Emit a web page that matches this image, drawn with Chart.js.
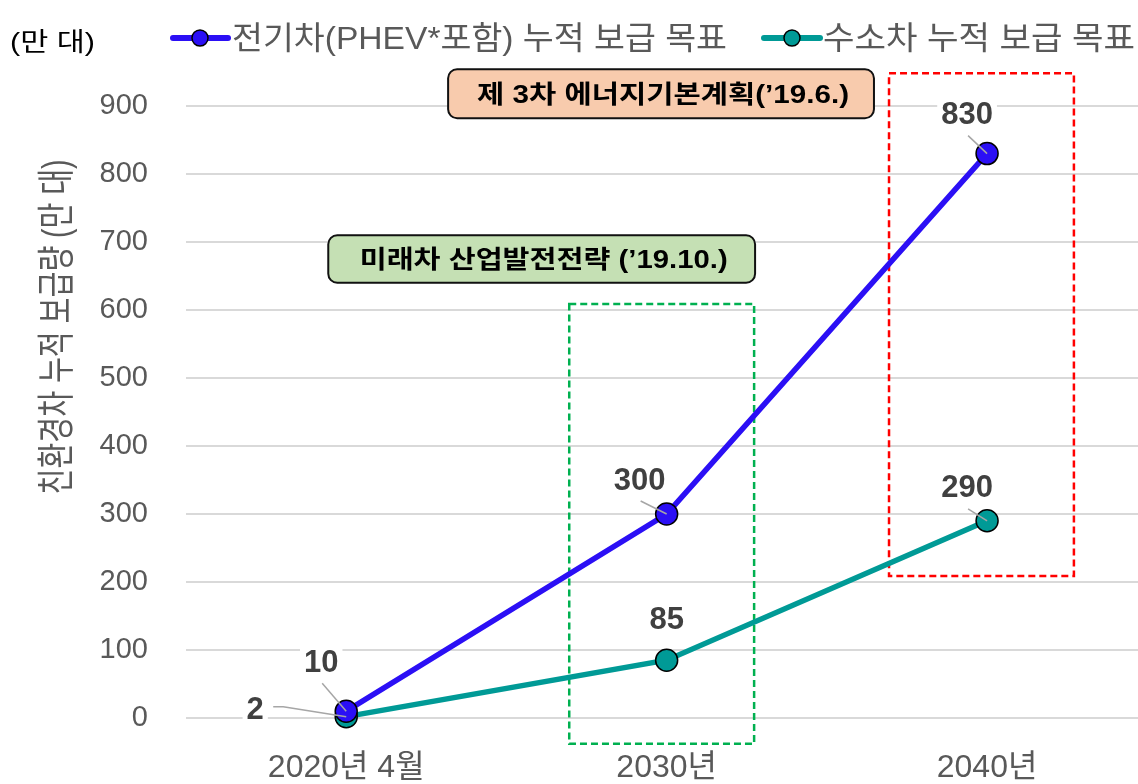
<!DOCTYPE html>
<html>
<head>
<meta charset="utf-8">
<script src="https://cdn.jsdelivr.net/npm/chart.js@4"></script>
<style>
  html, body { margin: 0; padding: 0; overflow: hidden; background: #fff; }
  #wrap { width: 1138px; height: 784px; position: relative; }
  #chart { display: block; }
</style>
</head>
<body>
<div id="wrap"><canvas id="chart"></canvas></div>
<script>
// data
var xLabels = ['2020년 4월', '2030년', '2040년'];
var seriesNames = ['전기차(PHEV*포함) 누적 보급 목표', '수소차 누적 보급 목표'];
var evValues = [10, 300, 830];
var h2Values = [2, 85, 290];

var evColor = '#2B0FF5';
var h2Color = '#009A96';
var grey = '#595959';
var KFONT = '"Liberation Sans", "Noto Sans CJK KR", sans-serif';

// label offsets (px) from each point: [dx, dy, leader?]
var labelPos = [
  [[-25, -49, true], [-27, -34, true], [-20, -39, true]],
  [[-91, -7, true], [0, -41, false], [-20, -33, true]]
];

// annotation frames, in axis units
var frames = [
  { x0: 0.696, x1: 1.273, y0: -38, y1: 609, color: '#00B050' },
  { x0: 1.694, x1: 2.271, y0: 209, y1: 948, color: '#FF0000' }
];
var notes = [
  { text: '제 3차 에너지기본계획(’19.6.)', x0: 0.318, x1: 1.647, y0: 882, y1: 954, fill: '#F8CBAD', w: 372 },
  { text: '미래차 산업발전전략 (’19.10.)', x0: -0.056, x1: 1.276, y0: 640, y1: 710, fill: '#C5E0B4', w: 368 }
];

function fitText(ctx, text, x, y, width, align) {
  var m = ctx.measureText(text).width;
  var s = width / m;
  ctx.save();
  ctx.translate(x, y);
  ctx.scale(s, 1);
  ctx.textAlign = align || 'left';
  ctx.fillText(text, 0, 0);
  ctx.restore();
}

function legendItem(ctx, x0, x1, cx, y, color, text, tx, tw) {
  ctx.save();
  ctx.strokeStyle = color;
  ctx.lineWidth = 6;
  ctx.lineCap = 'round';
  ctx.beginPath();
  ctx.moveTo(x0, y);
  ctx.lineTo(x1, y);
  ctx.stroke();
  ctx.beginPath();
  ctx.arc(cx, y, 8, 0, Math.PI * 2);
  ctx.fillStyle = color;
  ctx.fill();
  ctx.lineWidth = 1.5;
  ctx.strokeStyle = '#000';
  ctx.stroke();
  ctx.fillStyle = grey;
  ctx.font = '32px ' + KFONT;
  ctx.textBaseline = 'middle';
  fitText(ctx, text, tx, y + 2, tw);
  ctx.restore();
}

var overlay = {
  id: 'overlay',
  beforeDatasetsDraw: function(chart) {
    var ctx = chart.ctx, xs = chart.scales.x, ys = chart.scales.y;
    ctx.save();
    frames.forEach(function(f) {
      var l = xs.getPixelForValue(f.x0), r = xs.getPixelForValue(f.x1);
      var t = ys.getPixelForValue(f.y1), b = ys.getPixelForValue(f.y0);
      ctx.setLineDash([7, 4]);
      ctx.lineWidth = 2.5;
      ctx.strokeStyle = f.color;
      ctx.strokeRect(l, t, r - l, b - t);
    });
    ctx.setLineDash([]);
    notes.forEach(function(n) {
      var l = xs.getPixelForValue(n.x0), r = xs.getPixelForValue(n.x1);
      var t = ys.getPixelForValue(n.y1), b = ys.getPixelForValue(n.y0);
      ctx.beginPath();
      ctx.roundRect(l, t, r - l, b - t, 9);
      ctx.fillStyle = n.fill;
      ctx.fill();
      ctx.lineWidth = 2;
      ctx.strokeStyle = '#111';
      ctx.stroke();
      ctx.fillStyle = '#000';
      ctx.font = 'bold 25px ' + KFONT;
      ctx.textBaseline = 'middle';
      fitText(ctx, n.text, (l + r) / 2 + 2, (t + b) / 2 + 2, n.w, 'center');
    });
    ctx.restore();
  },
  afterDatasetsDraw: function(chart) {
    var ctx = chart.ctx;
    ctx.save();
    ctx.font = 'bold 31px "Liberation Sans", Arial, sans-serif';
    ctx.textAlign = 'center';
    ctx.textBaseline = 'middle';
    chart.data.datasets.forEach(function(ds, di) {
      var meta = chart.getDatasetMeta(di);
      meta.data.forEach(function(pt, i) {
        var o = labelPos[di][i];
        var lx = pt.x + o[0], ly = pt.y + o[1];
        var txt = String(ds.data[i].y);
        var w = ctx.measureText(txt).width;
        ctx.fillStyle = '#fff';
        ctx.fillRect(lx - w / 2 - 4, ly - 16, w + 8, 32);
        if (o[2]) {
          ctx.strokeStyle = '#A6A6A6';
          ctx.lineWidth = 1.5;
          ctx.beginPath();
          if (di === 1 && i === 0) {
            ctx.moveTo(lx + 18, ly - 3);
            ctx.lineTo(lx + 28, ly - 3);
          } else {
            ctx.moveTo(lx + 1, ly + 21);
          }
          ctx.lineTo(pt.x, pt.y);
          ctx.stroke();
        }
        ctx.fillStyle = '#404040';
        ctx.fillText(txt, lx, ly + 1);
      });
    });
    ctx.restore();
  },
  afterDraw: function(chart) {
    var ctx = chart.ctx;
    ctx.save();
    legendItem(ctx, 173, 228, 200, 38, evColor, seriesNames[0], 232, 495);
    legendItem(ctx, 764, 820, 792, 38, h2Color, seriesNames[1], 823, 312);

    ctx.fillStyle = '#000';
    ctx.font = '26px ' + KFONT;
    ctx.textBaseline = 'middle';
    fitText(ctx, '(만 대)', 10, 44, 85);

    ctx.translate(59, 327);
    ctx.rotate(-Math.PI / 2);
    ctx.fillStyle = grey;
    ctx.font = '38px ' + KFONT;
    fitText(ctx, '친환경차 누적 보급량 (만 대)', 0, 0, 335, 'center');
    ctx.restore();
  }
};

function toPoints(vals) {
  return vals.map(function(v, i) { return { x: i, y: v }; });
}

new Chart(document.getElementById('chart'), {
  type: 'line',
  data: {
    datasets: [
      {
        label: seriesNames[0],
        data: toPoints(evValues),
        borderColor: evColor,
        backgroundColor: evColor,
        borderWidth: 5.5,
        pointRadius: 11,
        pointBorderColor: '#000',
        pointBorderWidth: 1.5,
        pointBackgroundColor: evColor,
        tension: 0,
        clip: false
      },
      {
        label: seriesNames[1],
        data: toPoints(h2Values),
        borderColor: h2Color,
        backgroundColor: h2Color,
        borderWidth: 5.5,
        pointRadius: 11,
        pointBorderColor: '#000',
        pointBorderWidth: 1.5,
        pointBackgroundColor: h2Color,
        tension: 0,
        clip: false
      }
    ]
  },
  options: {
    responsive: true,
    maintainAspectRatio: false,
    animation: false,
    layout: { autoPadding: false, padding: { top: 106, right: 0, left: 0, bottom: 0 } },
    plugins: { legend: { display: false }, tooltip: { enabled: false } },
    scales: {
      x: {
        type: 'linear',
        min: -0.5,
        max: 2.471,
        grid: { display: false, drawTicks: false },
        border: { display: false },
        afterBuildTicks: function(s) {
          s.ticks = xLabels.map(function(_, i) { return { value: i }; });
        },
        afterFit: function(s) { s.height = 66; },
        ticks: {
          autoSkip: false,
          maxRotation: 0,
          padding: 31,
          color: grey,
          font: { size: 32, family: KFONT },
          callback: function(v) { return xLabels[v]; }
        }
      },
      y: {
        min: 0,
        max: 900,
        grid: { color: '#D9D9D9', lineWidth: 2, drawTicks: false },
        border: { display: false },
        afterFit: function(s) { s.width = 186; },
        ticks: {
          stepSize: 100,
          padding: 38,
          color: grey,
          font: { size: 29, family: '"Liberation Sans", Arial, sans-serif' }
        }
      }
    }
  },
  plugins: [overlay]
});
</script>
</body>
</html>
